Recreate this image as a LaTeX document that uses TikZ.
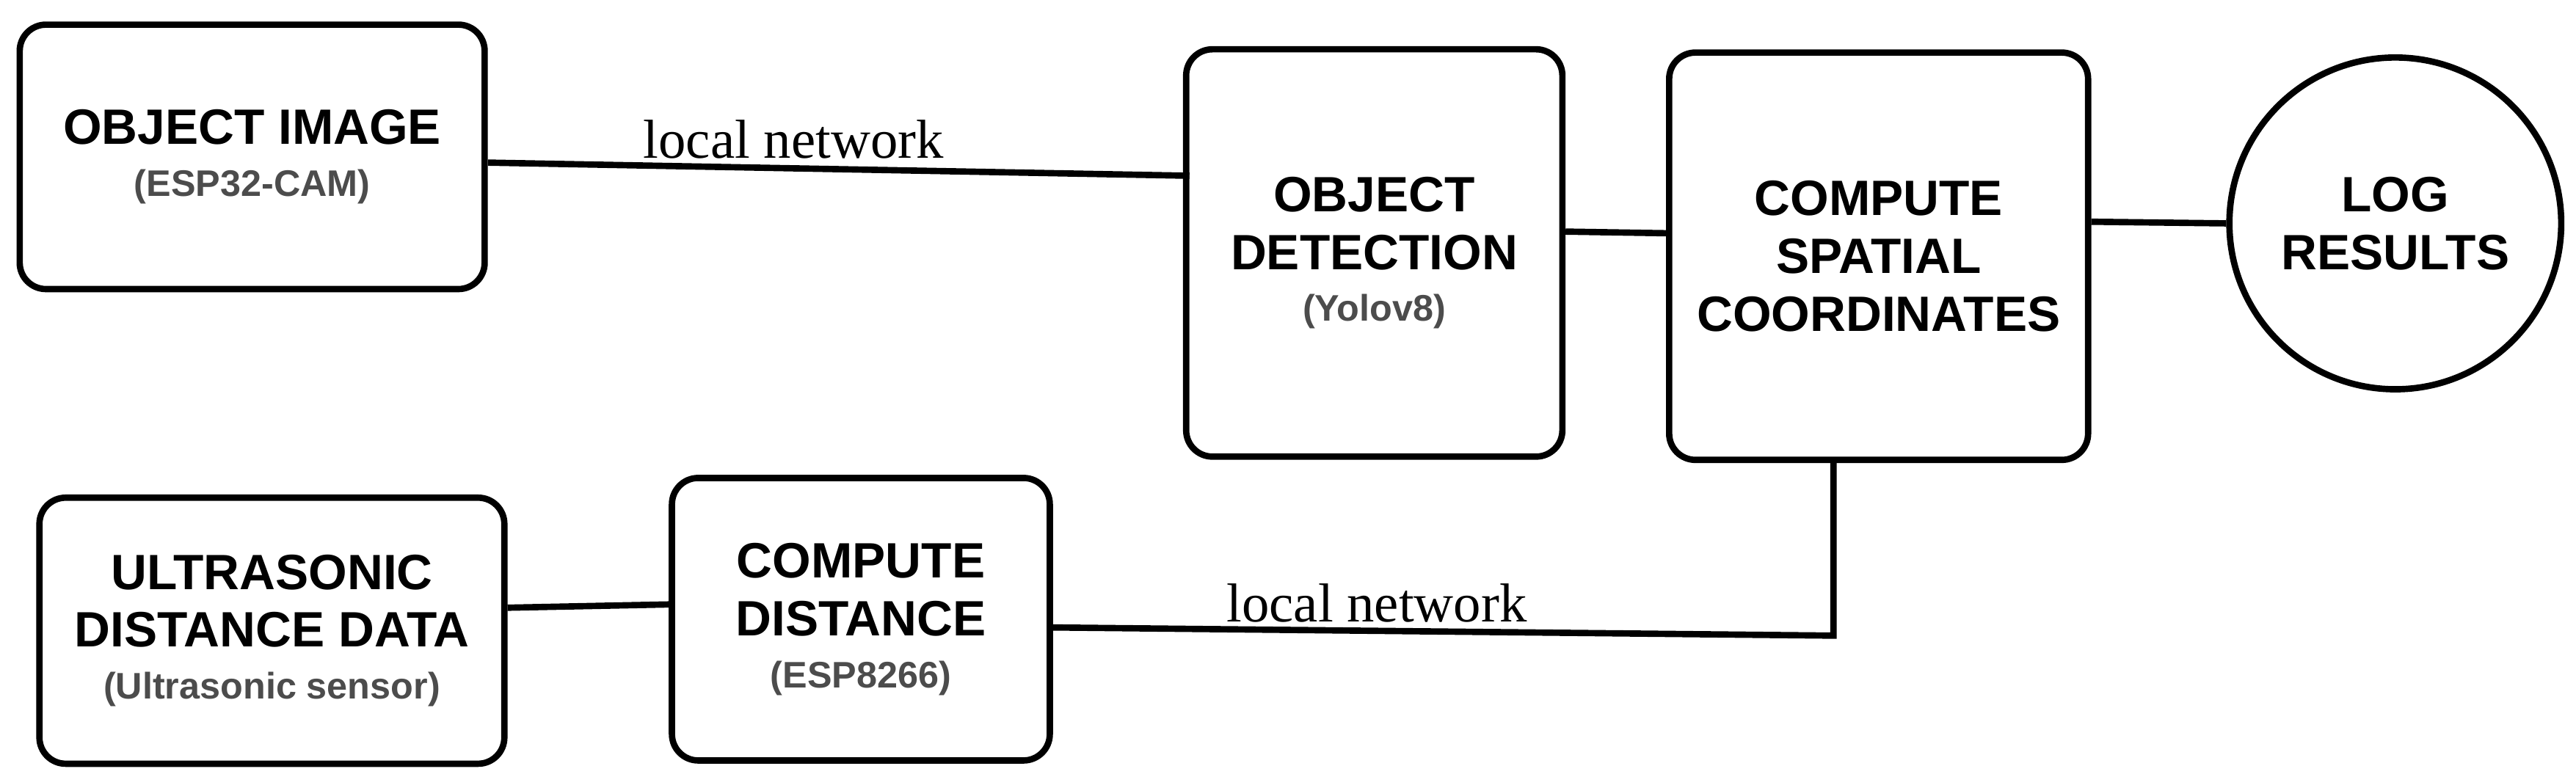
\documentclass[tikz,border=0pt]{standalone}
\usepackage{fontspec}
\setmainfont{Liberation Sans}
\newfontfamily\netfont{Liberation Serif}
\begin{document}
\begin{tikzpicture}[x=1cm,y=1cm,
  blk/.style={draw, line width=1.1pt, rounded corners=1.6mm, align=center, font=\bfseries\fontsize{8.6}{10}\selectfont},
  wire/.style={line width=1.1pt},
  sub/.style={text=black!70},
  net/.style={font=\netfont\fontsize{9.5}{11}\selectfont}]

\useasboundingbox (0,0) rectangle (15.68,-4.73);

\node[blk, minimum width=2.83cm, minimum height=1.61cm] (img) at (1.535,-0.955)
  {OBJECT IMAGE\\[-1pt]{\fontsize{6.4}{8}\selectfont\color{black!70}(ESP32-CAM)}};
\node[blk, minimum width=2.29cm, minimum height=2.48cm] (det) at (8.365,-1.54)
  {OBJECT\\DETECTION\\[-1pt]{\fontsize{6.4}{8}\selectfont\color{black!70}(Yolov8)}};
\node[blk, minimum width=2.55cm, minimum height=2.48cm] (spc) at (11.435,-1.56)
  {COMPUTE\\SPATIAL\\COORDINATES};
\node[draw, line width=1.1pt, circle, minimum size=2.02cm, align=center,
  font=\bfseries\fontsize{8.6}{10}\selectfont] (log) at (14.58,-1.36) {LOG\\RESULTS};
\node[blk, minimum width=2.83cm, minimum height=1.62cm] (ult) at (1.655,-3.84)
  {ULTRASONIC\\DISTANCE DATA\\[-1pt]{\fontsize{6.4}{8}\selectfont\color{black!70}(Ultrasonic sensor)}};
\node[blk, minimum width=2.30cm, minimum height=1.72cm] (dst) at (5.24,-3.77)
  {COMPUTE\\DISTANCE\\[-1pt]{\fontsize{6.4}{8}\selectfont\color{black!70}(ESP8266)}};

% connectors
\coordinate (imgout) at (2.97,-0.99);
\coordinate (detin) at (7.24,-1.07);
\coordinate (dstout) at (6.39,-3.82);
\coordinate (bend) at (11.16,-3.87);
\draw[wire] (imgout) -- (detin);
\draw[wire] (det.east |- 0,-1.41) -- (spc.west |- 0,-1.42);
\draw[wire] (spc.east |- 0,-1.35) -- (log.west);
\draw[wire] (ult.east |- 0,-3.70) -- (dst.west |- 0,-3.68);
\draw[wire] (dstout) -- (bend) -- (bend |- spc.south);

\node[net] (lbl1) at (4.83,-0.85) {local network};
\node[net] (lbl2) at (8.38,-3.67) {local network};

\end{tikzpicture}
\end{document}
